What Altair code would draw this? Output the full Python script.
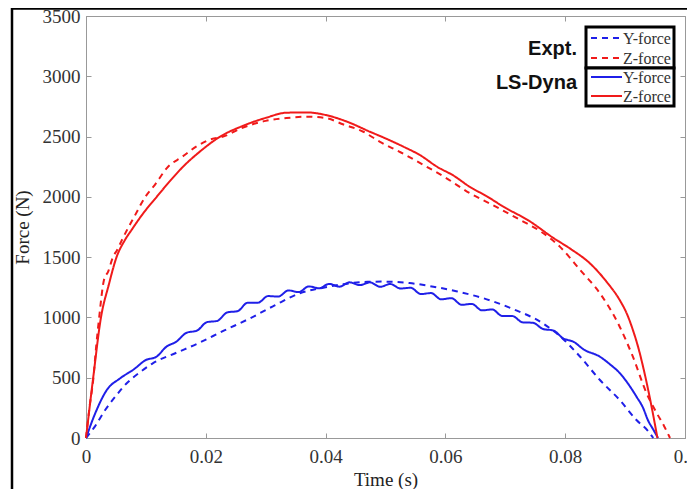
import altair as alt
import pandas as pd

# ---------------- data ----------------
# LS-Dyna Z-force (solid red)
ls_z_t = [0, 0.0012, 0.0025, 0.0038, 0.0051, 0.0065, 0.0076, 0.0095, 0.0118, 0.0140,
          0.0162, 0.0190, 0.0224, 0.0260, 0.0300, 0.0335, 0.0370, 0.0400, 0.0435, 0.0474,
          0.0500, 0.0530, 0.0558, 0.0586, 0.0614, 0.0641, 0.0669, 0.0697, 0.0740, 0.0780,
          0.0810, 0.0841, 0.0870, 0.0891, 0.0903, 0.0913, 0.0922, 0.0930, 0.0942, 0.0954]
ls_z_f = [0, 500, 1000, 1270, 1500, 1642, 1725, 1860, 2000, 2130,
          2250, 2375, 2500, 2585, 2655, 2698, 2700, 2679, 2625, 2540,
          2485, 2416, 2345, 2250, 2175, 2082, 2005, 1918, 1800, 1660,
          1565, 1450, 1290, 1144, 1030, 896, 750, 591, 315, 0]

# Expt Z-force (dashed red)
ex_z_t = [0, 0.0006, 0.0012, 0.0017, 0.0022, 0.0030, 0.0037, 0.0045, 0.0052, 0.0060,
          0.0070, 0.0080, 0.0099, 0.0115, 0.0137, 0.0160, 0.0185, 0.0210, 0.0229, 0.0260,
          0.0300, 0.0335, 0.0370, 0.0400, 0.0430, 0.0463, 0.0490, 0.0525, 0.0558, 0.0600,
          0.0641, 0.0680, 0.0725, 0.0760, 0.0791, 0.0825, 0.0858, 0.0891, 0.0913, 0.0936,
          0.0953, 0.0965, 0.0975]
ex_z_f = [0, 260, 480, 760, 1000, 1310, 1380, 1500, 1560, 1642,
          1740, 1830, 2000, 2100, 2250, 2330, 2420, 2480, 2500, 2570,
          2630, 2654, 2665, 2654, 2600, 2540, 2458, 2370, 2280, 2160,
          2030, 1930, 1808, 1710, 1587, 1393, 1200, 923, 674, 370,
          205, 100, 0]

# LS-Dyna Y-force (solid blue, wavy)
ls_y_t = [0, 0.0015, 0.0035, 0.0057, 0.0080, 0.0100, 0.0117, 0.0134, 0.0151, 0.0168,
          0.0185, 0.0202, 0.0219, 0.0236, 0.0253, 0.0270, 0.0287, 0.0304, 0.0321, 0.0338,
          0.0355, 0.0372, 0.0389, 0.0406, 0.0423, 0.0440, 0.0457, 0.0474, 0.0491, 0.0508,
          0.0525, 0.0542, 0.0559, 0.0576, 0.0593, 0.0610, 0.0627, 0.0644, 0.0661, 0.0678,
          0.0695, 0.0712, 0.0729, 0.0746, 0.0763, 0.0780, 0.0797, 0.0814, 0.0831, 0.0858,
          0.0875, 0.0891, 0.0905, 0.0919, 0.0930, 0.0938, 0.0947, 0.0955]
ls_y_f = [0, 200, 400, 495, 570, 647, 672, 756, 800, 873,
          890, 961, 971, 1042, 1052, 1122, 1122, 1177, 1173, 1224,
          1210, 1257, 1242, 1278, 1255, 1291, 1268, 1291, 1254, 1277,
          1240, 1246, 1194, 1202, 1150, 1160, 1105, 1112, 1059, 1066,
          1012, 1011, 959, 956, 904, 892, 825, 798, 734, 674,
          610, 539, 450, 343, 250, 149, 70, 0]

# Expt Y-force (dashed blue)
ex_y_t = [0, 0.0015, 0.0032, 0.0050, 0.0068, 0.0090, 0.0112, 0.0150, 0.0187, 0.0230,
          0.0274, 0.0315, 0.0357, 0.0400, 0.0440, 0.0470, 0.0496, 0.0540, 0.0580, 0.0620,
          0.0663, 0.0710, 0.0763, 0.0791, 0.0825, 0.0858, 0.0891, 0.0919, 0.0938, 0.0947]
ex_y_f = [0, 97, 232, 350, 454, 545, 621, 705, 785, 890,
          993, 1100, 1200, 1250, 1283, 1295, 1297, 1285, 1255, 1215,
          1160, 1075, 950, 845, 674, 481, 315, 149, 60, 0]

x_ticks = [0, 0.02, 0.04, 0.06, 0.08, 0.1]
y_ticks = [0, 500, 1000, 1500, 2000, 2500, 3000, 3500]

series_names = ["Expt Y-force", "Expt Z-force", "LS-Dyna Y-force", "LS-Dyna Z-force"]
series_colors = ["#1f1fe8", "#f01a1a", "#1f1fe8", "#f01a1a"]
series_dash = [[6, 5], [6, 5], [1, 0], [1, 0]]
legend_labels = ["Y-force", "Z-force", "Y-force", "Z-force"]
group_titles = ["Expt.", "LS-Dyna"]

# ---------------- build table ----------------
frames = []
for name, t, f in [("Expt Y-force", ex_y_t, ex_y_f), ("Expt Z-force", ex_z_t, ex_z_f),
                   ("LS-Dyna Y-force", ls_y_t, ls_y_f), ("LS-Dyna Z-force", ls_z_t, ls_z_f)]:
    frames.append(pd.DataFrame({"t": t, "F": f, "series": name}))
df = pd.concat(frames, ignore_index=True)

W, H = 599, 422
SERIF = "Liberation Serif"
SANS = "Liberation Sans"

x_axis = alt.Axis(values=x_ticks, format="~g", title="Time (s)", labelFont=SERIF,
                  labelFontSize=19, labelColor="#333", titleFont=SERIF, titleFontSize=19,
                  titleFontWeight="normal", titleColor="#222", ticks=False, labelPadding=9,
                  titlePadding=4, domainColor="#999", grid=True, gridColor="#999",
                  gridDash=[5, H - 10, 5, 2000], labelFlush=False)
y_axis = alt.Axis(values=y_ticks, format="d", title="Force (N)", labelFont=SERIF,
                  labelFontSize=19, labelColor="#333", titleFont=SERIF, titleFontSize=19,
                  titleFontWeight="normal", titleColor="#222", ticks=False, labelPadding=6,
                  titlePadding=10, domainColor="#999", grid=True, gridColor="#999",
                  gridDash=[5, W - 10, 5, 2000], labelFlush=False)

lines = alt.Chart(df).mark_line(strokeWidth=2, interpolate="monotone").encode(
    x=alt.X("t:Q", scale=alt.Scale(domain=[0, 0.1], nice=False), axis=x_axis),
    y=alt.Y("F:Q", scale=alt.Scale(domain=[0, 3500], nice=False), axis=y_axis),
    color=alt.Color("series:N", scale=alt.Scale(domain=series_names, range=series_colors), legend=None),
    strokeDash=alt.StrokeDash("series:N", scale=alt.Scale(domain=series_names, range=series_dash), legend=None),
    detail="series:N",
    order="t:Q",
)

one = pd.DataFrame({"k": [0]})
layers = [lines]

# legend boxes
for (y1, y2) in [(11, 52), (52, 90)]:
    layers.append(alt.Chart(one).mark_rect(fill="white", stroke="black", strokeWidth=3).encode(
        x=alt.value(500), x2=alt.value(588), y=alt.value(y1), y2=alt.value(y2)))

# legend entries
row_y = [22, 42, 61, 80]
for i in range(4):
    layers.append(alt.Chart(one).mark_rule(strokeWidth=2, strokeDash=series_dash[i],
                                           color=series_colors[i]).encode(
        x=alt.value(505), x2=alt.value(536), y=alt.value(row_y[i])))
    layers.append(alt.Chart(one).mark_text(text=legend_labels[i], font=SERIF, fontSize=16,
                                           color="#333", align="left", baseline="middle").encode(
        x=alt.value(537), y=alt.value(row_y[i] + 1)))

for title, ty in zip(group_titles, [33, 67]):
    layers.append(alt.Chart(one).mark_text(text=title, font=SANS, fontSize=20, fontWeight="bold",
                                           color="#111", align="right", baseline="middle").encode(
        x=alt.value(491), y=alt.value(ty)))

# outer figure frame
layers.append(alt.Chart(one).mark_rect(fillOpacity=0, stroke="black", strokeWidth=2.5).encode(
    x=alt.value(-74), x2=alt.value(700), y=alt.value(-7.5), y2=alt.value(600)))

chart = alt.layer(*layers).properties(
    width=W, height=H,
    autosize=alt.AutoSizeParams(type="none"),
    padding={"left": 78, "top": 8, "right": 2, "bottom": 51},
).configure_view(stroke="#999", strokeWidth=1)

chart.save("out.html", embed_options={"renderer": "svg", "actions": False})
